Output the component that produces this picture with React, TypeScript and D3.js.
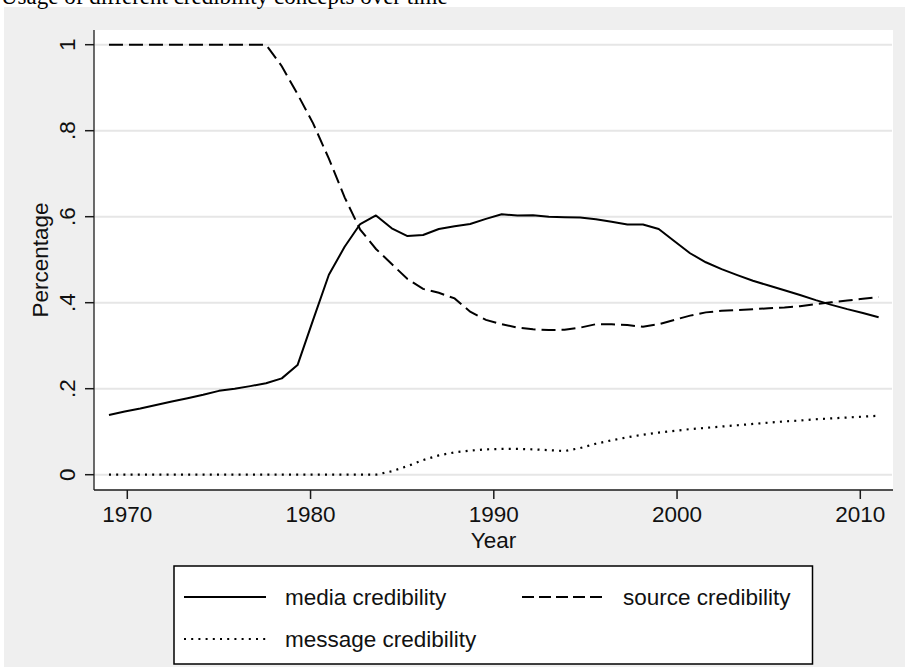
import React from "react";
import * as d3 from "d3";

// x positions of the 50 observations (evenly spread over 1969–2011)
const years = [
  1969.0, 1969.86, 1970.71, 1971.57, 1972.43, 1973.29, 1974.14, 1975.0, 1975.86, 1976.71,
  1977.57, 1978.43, 1979.29, 1980.14, 1981.0, 1981.86, 1982.71, 1983.57, 1984.43, 1985.29,
  1986.14, 1987.0, 1987.86, 1988.71, 1989.57, 1990.43, 1991.29, 1992.14, 1993.0, 1993.86,
  1994.71, 1995.57, 1996.43, 1997.29, 1998.14, 1999.0, 1999.86, 2000.71, 2001.57, 2002.43,
  2003.29, 2004.14, 2005.0, 2005.86, 2006.71, 2007.57, 2008.43, 2009.29, 2010.14, 2011.0,
];

const mediaCredibility = [
  0.139, 0.147, 0.154, 0.162, 0.17, 0.178, 0.186, 0.195, 0.2, 0.206,
  0.2125, 0.224, 0.255, 0.36, 0.465, 0.53, 0.583, 0.603, 0.573, 0.555,
  0.5574, 0.5714, 0.578, 0.583, 0.595, 0.6056, 0.603, 0.6035, 0.6, 0.599,
  0.598, 0.594, 0.588, 0.582, 0.582, 0.5714, 0.543, 0.515, 0.494, 0.478,
  0.464, 0.451, 0.44, 0.429, 0.418, 0.406, 0.395, 0.385, 0.376, 0.366,
];

const sourceCredibility = [
  1, 1, 1, 1, 1, 1, 1, 1, 1, 1,
  1, 0.95, 0.885, 0.817, 0.735, 0.645, 0.57, 0.525, 0.49, 0.455,
  0.432, 0.423, 0.41, 0.379, 0.36, 0.35, 0.342, 0.338, 0.3365, 0.337,
  0.342, 0.35, 0.35, 0.348, 0.344, 0.35, 0.36, 0.37, 0.3775, 0.381,
  0.383, 0.385, 0.387, 0.389, 0.392, 0.397, 0.401, 0.405, 0.409, 0.413,
];

const messageCredibility = [
  0, 0, 0, 0, 0, 0, 0, 0, 0, 0,
  0, 0, 0, 0, 0, 0, 0, 0, 0.008, 0.02,
  0.034, 0.045, 0.052, 0.056, 0.059, 0.06, 0.06, 0.059, 0.057, 0.055,
  0.062, 0.072, 0.08, 0.087, 0.093, 0.098, 0.102, 0.106, 0.109, 0.112,
  0.115, 0.118, 0.121, 0.124, 0.126, 0.129, 0.131, 0.133, 0.135, 0.137,
];

const xTicks = [1970, 1980, 1990, 2000, 2010];
const yTicks = [0, 0.2, 0.4, 0.6, 0.8, 1];
const yTickLabels = ["0", ".2", ".4", ".6", ".8", "1"];

const titleText = "Usage of different credibility concepts over time";
const xTitle = "Year";
const yTitle = "Percentage";
const legendLabels = ["media credibility", "source credibility", "message credibility"];

const W = 905;
const H = 667;
const plot = { left: 94, right: 893, top: 30, bottom: 490 };
const SANS = "'Liberation Sans', Arial, Helvetica, sans-serif";

export default function App() {
  const x = d3.scaleLinear().domain([1970, 2010]).range([127.3, 860.3]);
  const y = d3.scaleLinear().domain([0, 1]).range([474.7, 44.7]);

  const mk = (vals: number[]) =>
    d3
      .line<number>()
      .x((_, i) => x(years[i]))
      .y((d) => y(d))(vals) as string;

  const legendRows = [
    { label: legendLabels[0], dash: undefined as string | undefined, lx: 184, tx: 285, ly: 597 },
    { label: legendLabels[1], dash: "12,5", lx: 522, tx: 623, ly: 597 },
    { label: legendLabels[2], dash: "2,5.2", lx: 184, tx: 285, ly: 639 },
  ];

  return (
    <svg
      width={W}
      height={H}
      style={{ position: "absolute", left: 0, top: 0, background: "#ffffff" }}
    >
      <rect x={4} y={7} width={W - 4} height={H - 7} fill="#efefef" />
      <text x={1} y={4} fontFamily="'Liberation Serif', 'Times New Roman', serif" fontSize={23} fill="#000">
        {titleText}
      </text>

      <rect
        x={plot.left}
        y={plot.top}
        width={plot.right - plot.left}
        height={plot.bottom - plot.top}
        fill="#ffffff"
      />

      {yTicks.map((t) => (
        <line
          key={"g" + t}
          x1={plot.left}
          x2={plot.right - 1}
          y1={y(t)}
          y2={y(t)}
          stroke="#e6e6e6"
          strokeWidth={2}
        />
      ))}

      <line x1={plot.left} x2={plot.left} y1={plot.top} y2={plot.bottom} stroke="#3a3a3a" strokeWidth={1.5} />
      <line x1={plot.left} x2={plot.right} y1={plot.bottom} y2={plot.bottom} stroke="#1a1a1a" strokeWidth={1.5} />

      {yTicks.map((t, i) => (
        <g key={"yt" + t}>
          <line x1={85} x2={plot.left} y1={y(t)} y2={y(t)} stroke="#1a1a1a" strokeWidth={1.5} />
          <text
            transform={`translate(75,${y(t)}) rotate(-90)`}
            textAnchor="middle"
            fontFamily={SANS}
            fontSize={22.5}
            fill="#111"
          >
            {yTickLabels[i]}
          </text>
        </g>
      ))}

      {xTicks.map((t) => (
        <g key={"xt" + t}>
          <line x1={x(t)} x2={x(t)} y1={plot.bottom} y2={499} stroke="#1a1a1a" strokeWidth={1.5} />
          <text x={x(t)} y={522} textAnchor="middle" fontFamily={SANS} fontSize={22.5} fill="#111">
            {t}
          </text>
        </g>
      ))}

      <text
        transform={`translate(48,${(plot.top + plot.bottom) / 2}) rotate(-90)`}
        textAnchor="middle"
        fontFamily={SANS}
        fontSize={22.5}
        fill="#111"
      >
        {yTitle}
      </text>
      <text
        x={(plot.left + plot.right) / 2}
        y={548}
        textAnchor="middle"
        fontFamily={SANS}
        fontSize={22.5}
        fill="#111"
      >
        {xTitle}
      </text>

      <path d={mk(messageCredibility)} fill="none" stroke="#000" strokeWidth={2.2} strokeDasharray="2,5.2" />
      <path d={mk(sourceCredibility)} fill="none" stroke="#000" strokeWidth={2} strokeDasharray="14,6" />
      <path d={mk(mediaCredibility)} fill="none" stroke="#000" strokeWidth={2} strokeLinejoin="round" />

      <rect x={174} y={566} width={638.5} height={98} fill="#ffffff" stroke="#000" strokeWidth={1.5} />
      {legendRows.map((r) => (
        <g key={r.label}>
          <line
            x1={r.lx}
            x2={r.lx + 82}
            y1={r.ly}
            y2={r.ly}
            stroke="#000"
            strokeWidth={2}
            strokeDasharray={r.dash}
          />
          <text x={r.tx} y={r.ly + 8} fontFamily={SANS} fontSize={22.5} fill="#111">
            {r.label}
          </text>
        </g>
      ))}
    </svg>
  );
}
